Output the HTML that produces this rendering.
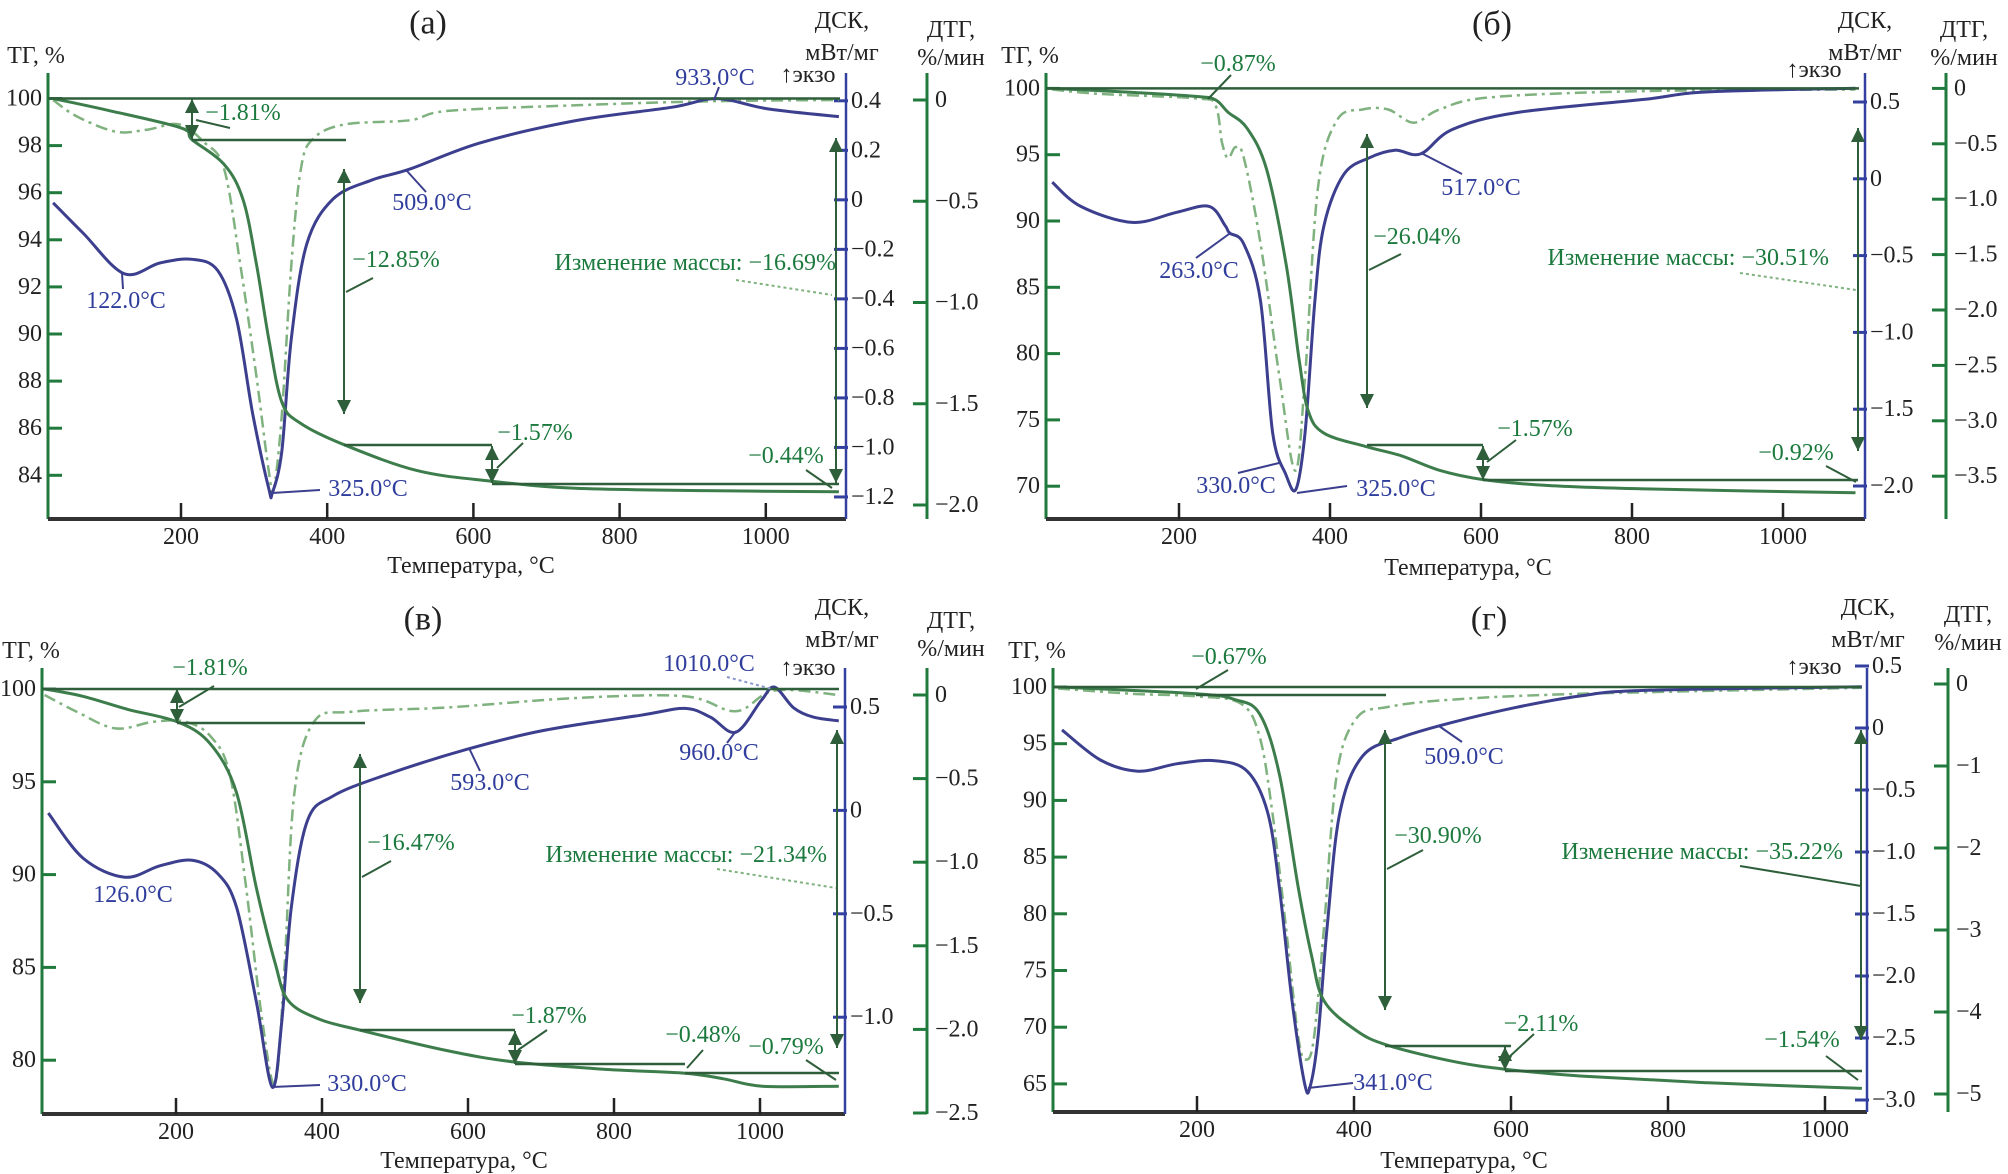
<!DOCTYPE html>
<html><head><meta charset="utf-8">
<style>
html,body{margin:0;padding:0;background:#fff;}
svg{display:block;}
text{font-family:"Liberation Serif","Noto Serif CJK SC",serif;font-size:24px;}
</style></head>
<body>
<svg id="fig" width="2008" height="1174" viewBox="0 0 2008 1174" xmlns="http://www.w3.org/2000/svg"></svg>
<script>
// ---------- data (panel а) ----------
const aTgT=[25,100,200,215,259,285,303,320,338,364,423,523,625,740,915,1100];
const aTgV=[100,99.5,98.75,98.25,97.2,95.7,93,89.8,87.1,86.2,85.3,84.2,83.75,83.45,83.35,83.3];
const aDscT=[25,66,122,171,215,250,276,298,320,325,338,351,372,408,460,513,609,740,872,933,1004,1100];
const aDscV=[-0.012,-0.134,-0.298,-0.255,-0.24,-0.285,-0.483,-0.862,-1.165,-1.183,-1.013,-0.558,-0.179,0.003,0.079,0.124,0.23,0.32,0.374,0.409,0.367,0.336];
const aDtgT=[25,57,110,153,197,232,259,281,303,320,327,338,351,364,381,425,513,565,740,915,1100];
const aDtgV=[0,-0.08,-0.156,-0.147,-0.12,-0.21,-0.34,-0.81,-1.36,-1.83,-1.92,-1.55,-0.81,-0.34,-0.19,-0.12,-0.1,-0.054,-0.026,-0.007,0];
// ---------- data (panel б) ----------
const bTgT=[32,138,222,248,265,290,316,342,359,371,392,447,494,545,603,689,816,1096];
const bTgV=[100,99.7,99.4,99.15,98.2,97,93.9,86.7,79.6,75.7,74,73,72.3,71.2,70.5,70.05,69.8,69.5];
const bDscT=[32,70,138,197,240,261,267,286,308,324,341,355,367,380,392,418,452,486,520,562,647,816,901,1096];
const bDscV=[-0.022,-0.18,-0.284,-0.218,-0.18,-0.304,-0.353,-0.426,-0.794,-1.652,-1.92,-2.02,-1.652,-0.794,-0.304,0.027,0.137,0.186,0.162,0.321,0.431,0.517,0.566,0.59];
const bDtgT=[32,95,222,248,257,265,275,286,308,333,354,367,384,409,443,477,511,545,613,816,1096];
const bDtgV=[-0.01,-0.05,-0.09,-0.15,-0.49,-0.63,-0.53,-0.63,-1.4,-2.6,-3.45,-2.6,-0.9,-0.29,-0.19,-0.19,-0.31,-0.19,-0.08,-0.024,-0.01];
// ---------- data (panel в) ----------
const cTgT=[20,73,134,204,248,283,310,336,354,397,454,573,665,792,897,950,1003,1108];
const cTgV=[100,99.6,98.9,98.2,97,94.4,89.3,85.2,83.2,82.2,81.6,80.5,79.9,79.5,79.3,79,78.6,78.6];
const cDscT=[25,73,130,178,222,257,283,310,332,345,358,380,415,485,599,704,836,897,932,967,1002,1020,1046,1073,1108];
const cDscV=[-0.013,-0.232,-0.323,-0.268,-0.241,-0.305,-0.469,-0.924,-1.339,-1.015,-0.469,-0.05,0.069,0.169,0.296,0.387,0.46,0.493,0.451,0.378,0.533,0.596,0.496,0.451,0.433];
const cDtgT=[20,64,117,169,213,248,274,296,318,336,349,362,389,441,573,748,897,967,1020,1108];
const cDtgV=[0,-0.1,-0.2,-0.16,-0.16,-0.25,-0.48,-1.15,-1.94,-2.32,-1.6,-0.59,-0.16,-0.1,-0.074,-0.018,-0.007,-0.097,0.027,0];
// ---------- data (panel г) ----------
const dTgT=[23,199,248,280,305,329,346,362,403,443,525,592,688,851,1047];
const dTgV=[100,99.4,98.9,97.6,92.3,82.3,76.3,72.3,69.7,68.4,67,66.3,65.7,65.1,64.6];
const dDscT=[28,77,125,175,223,264,290,305,321,337,344,354,366,382,411,460,525,607,688,770,1047];
const dDscV=[-0.015,-0.258,-0.348,-0.288,-0.264,-0.348,-0.682,-1.288,-2.197,-2.864,-2.894,-2.5,-1.59,-0.682,-0.227,-0.076,0.045,0.167,0.258,0.303,0.333];
const dDtgT=[23,118,199,256,280,296,313,329,339,349,362,378,403,443,525,688,1047];
const dDtgV=[-0.055,-0.12,-0.15,-0.24,-0.65,-1.57,-2.94,-4.31,-4.58,-4.31,-2.94,-1.11,-0.42,-0.28,-0.19,-0.12,-0.046];
// ---------- tick labels ----------
const xTicks=[200,400,600,800,1000];
const aTgTicks=[84,86,88,90,92,94,96,98,100];
const aDscTicks=[-1.2,-1.0,-0.8,-0.6,-0.4,-0.2,0,0.2,0.4];
const aDtgTicks=[0,-0.5,-1.0,-1.5,-2.0];
const bTgTicks=[70,75,80,85,90,95,100];
const bDscTicks=[-2.0,-1.5,-1.0,-0.5,0,0.5];
const bDtgTicks=[0,-0.5,-1.0,-1.5,-2.0,-2.5,-3.0,-3.5];
const cTgTicks=[80,85,90,95,100];
const cDscTicks=[-1.0,-0.5,0,0.5];
const cDtgTicks=[0,-0.5,-1.0,-1.5,-2.0,-2.5];
const dTgTicks=[65,70,75,80,85,90,95,100];
const dDscTicks=[-3.0,-2.5,-2.0,-1.5,-1.0,-0.5,0,0.5];
const dDtgTicks=[0,-1,-2,-3,-4,-5];

const NS='http://www.w3.org/2000/svg';
const svg=document.getElementById('fig');
const GT='#3d7d4c', GA='#1f7a3c', BL='#3c3f8e', BA='#3340a0', DT='#7fb27f', TXG='#1c7a3e', TXB='#2f3d9c';
function mk(tag,attrs,parent){const e=document.createElementNS(NS,tag);for(const k in attrs)e.setAttribute(k,attrs[k]);(parent||svg).appendChild(e);return e;}
function fmt(v){let s=(Math.abs(v)%1===0&&Math.abs(v)<50&&String(v).indexOf('.')<0)?String(Math.abs(v)):String(Math.abs(v));return (v<0?'\u2212':'')+s;}
function fmt1(v,dec){const s=Math.abs(v).toFixed(dec);return (v<0?'\u2212':'')+s;}
function smoothPath(pts){let d='M'+pts[0][0].toFixed(1)+','+pts[0][1].toFixed(1);
 for(let i=0;i<pts.length-1;i++){const p0=pts[i-1]||pts[i],p1=pts[i],p2=pts[i+1],p3=pts[i+2]||p2;
  const c1=[p1[0]+(p2[0]-p0[0])/6,p1[1]+(p2[1]-p0[1])/6],c2=[p2[0]-(p3[0]-p1[0])/6,p2[1]-(p3[1]-p1[1])/6];
  d+=' C'+c1[0].toFixed(1)+','+c1[1].toFixed(1)+' '+c2[0].toFixed(1)+','+c2[1].toFixed(1)+' '+p2[0].toFixed(1)+','+p2[1].toFixed(1);}
 return d;}
function txt(g,x,y,s,fill,anchor,name,size){const t=mk('text',{x:x,y:y,fill:fill,'text-anchor':anchor||'middle','dominant-baseline':'central'},g);if(size)t.setAttribute('style','font-size:'+size+'px');t.textContent=s;
 
 
 return t;}
function line(g,x1,y1,x2,y2,c,w,dash){const l=mk('line',{x1:x1,y1:y1,x2:x2,y2:y2,stroke:c,'stroke-width':w||2},g);if(dash)l.setAttribute('stroke-dasharray',dash);return l;}
function arrowHead(g,x,y,dir,c){const s=7,h=14;const p=dir<0?[[x,y],[x-s,y+h],[x+s,y+h]]:[[x,y],[x-s,y-h],[x+s,y-h]];mk('polygon',{points:p.map(q=>q.join(',')).join(' '),fill:c},g);}
function dArrow(g,x,y1,y2,c){line(g,x,y1,x,y2,c,2);arrowHead(g,x,y1,-1,c);arrowHead(g,x,y2,1,c);}

function panel(P){
 const g=mk('g',{});
 
 
 const X=t=>P.x0+P.xs*t, Ytg=v=>P.tg0+(100-v)*P.tgU, Ydsc=v=>P.dsc0+(P.dscRef-v)*P.dscU, Ydtg=v=>P.dtg0-v*P.dtgU;
 // axes
 const ax=mk('g',{},g);
 
 
 line(ax,P.xL,P.top,P.xL,P.bot,GA,3);
 line(ax,P.xL,P.bot,P.xR,P.bot,'#333',4);
 line(ax,P.xR,P.top,P.xR,P.bot,BA,2.5);
 line(ax,P.dtgX,P.top,P.dtgX,P.bot,GA,3);
 xTicks.forEach(t=>{const x=X(t);if(x>P.xR-5)return;line(ax,x,P.bot,x,P.bot-16,'#222',2.5);txt(ax,x,P.bot+18,String(t),'#222','middle','x-tick-label');});
 P.tgTicks.forEach(v=>{const y=Ytg(v);line(ax,P.xL,y,P.xL+14,y,GA,3);txt(ax,P.xL-6,y,String(v),'#222','end','tg-tick-label');});
 P.dscTicks.forEach(v=>{const y=Ydsc(v);line(ax,P.xR-12,y,P.xR+2,y,BA,3);txt(ax,P.xR+5,y,v===0?'0':fmt1(v,1),'#222','start','dsc-tick-label');});
 P.dtgTicks.forEach(v=>{const y=Ydtg(v);line(ax,P.dtgX-14,y,P.dtgX,y,GA,3);txt(ax,P.dtgX+8,y,v===0?'0':fmt1(v,P.dtgDec),'#222','start','dtg-tick-label');});
 // titles
 txt(g,P.title[0],P.title[1],P.title[2],'#222','middle','panel-title',34);
 txt(g,P.tgL[0],P.tgL[1],'ТГ, %','#222','middle','tg-axis-title');
 txt(g,P.dscL[0],P.dscL[1],'ДСК,','#222','middle','dsc-axis-title');
 txt(g,P.dscL[0],P.dscL[1]+32,'мВт/мг','#222','middle','dsc-axis-unit');
 txt(g,P.dtgL[0],P.dtgL[1],'ДТГ,','#222','middle','dtg-axis-title');
 txt(g,P.dtgL[0],P.dtgL[1]+28,'%/мин','#222','middle','dtg-axis-unit');
 txt(g,P.exo[0],P.exo[1],'↑экзо','#222','middle','exo-label');
 txt(g,P.xt[0],P.xt[1],'Температура, °C','#222','middle','x-axis-title');
 // series
 const dtg=mk('path',{d:smoothPath(P.dtgT.map((t,i)=>[X(t),Ydtg(P.dtgV[i])])),fill:'none',stroke:DT,'stroke-width':2.5,'stroke-dasharray':'12,5,3,5'},g);
 
 
 const dsc=mk('path',{d:smoothPath(P.dscT.map((t,i)=>[X(t),Ydsc(P.dscV[i])])),fill:'none',stroke:BL,'stroke-width':3},g);
 
 
 const tg=mk('path',{d:smoothPath(P.tgT.map((t,i)=>[X(t),Ytg(P.tgV[i])])),fill:'none',stroke:GT,'stroke-width':3},g);
 
 
 // annotations
 const an=mk('g',{},g);
 
 
 line(an,P.xL,Ytg(100),P.xR-6,Ytg(100),'#2e5e3a',2.5);
 (P.hl||[]).forEach(h=>line(an,h[0],h[1],h[2],h[1],'#2e5e3a',2.5));
 (P.da||[]).forEach(a=>dArrow(an,a[0],a[1],a[2],'#2e5e3a'));
 (P.ld||[]).forEach(l=>line(an,l[0],l[1],l[2],l[3],l[4]||'#2e5e3a',2,l[5]));
 (P.gl||[]).forEach(l=>txt(an,l[0],l[1],l[2],TXG,l[3]||'middle','mass-loss-label'));
 (P.bl||[]).forEach(l=>txt(an,l[0],l[1],l[2],TXB,'middle','peak-temp-label'));
}

panel({id:'a',x0:34.8,xs:0.731,xL:48,xR:846,dtgX:927,top:73,bot:519,
 tg0:98.5,tgU:23.55,dsc0:100.8,dscRef:0.4,dscU:247.6,dtg0:100,dtgU:202.5,dtgDec:1,
 tgT:aTgT,tgV:aTgV,dscT:aDscT,dscV:aDscV,dtgT:aDtgT,dtgV:aDtgV,
 tgTicks:aTgTicks,dscTicks:aDscTicks,dtgTicks:aDtgTicks,
 title:[428,23,'(a)'],tgL:[36,56],dscL:[842,21],dtgL:[951,30],exo:[808,75],xt:[471,566],
 hl:[[192,140,346],[344,445,492],[492,484,839]],
 da:[[192,99,139],[344,169,414],[492,446,483],[836,138,483]],
 ld:[[230,128,196,120],[373,278,346,292],[523,443,497,468],[806,470,832,488],[736,280,832,295,'#7fb27f','3,3'],[122,273,123,289,BL],[272,493,320,490,BL],[407,171,426,192,BL],[719,87,714,100,BL]],
 gl:[[243,113,'−1.81%'],[396,260,'−12.85%'],[535,433,'−1.57%'],[786,456,'−0.44%'],[836,263,'Изменение массы: −16.69%','end']],
 bl:[[126,301,'122.0°C'],[368,489,'325.0°C'],[432,203,'509.0°C'],[715,78,'933.0°C']]});

panel({id:'b',x0:1028,xs:0.755,xL:1046,xR:1865,dtgX:1946,top:73,bot:519,
 tg0:88.4,tgU:13.26,dsc0:102,dscRef:0.5,dscU:153.6,dtg0:88.4,dtgU:110.8,dtgDec:1,
 tgT:bTgT,tgV:bTgV,dscT:bDscT,dscV:bDscV,dtgT:bDtgT,dtgV:bDtgV,
 tgTicks:bTgTicks,dscTicks:bDscTicks,dtgTicks:bDtgTicks,
 title:[1492,24,'(б)'],tgL:[1030,56],dscL:[1865,21],dtgL:[1964,30],exo:[1814,70],xt:[1468,568],
 hl:[[1367,445,1483],[1483,480,1858]],
 da:[[1367,134,408],[1483,446,480],[1858,128,451]],
 ld:[[1231,75,1208,99],[1401,254,1369,270],[1516,440,1487,462],[1826,466,1856,482],[1740,273,1856,290,'#7fb27f','3,3'],[1423,154,1462,174,BL],[1229,234,1196,258,BL],[1279,463,1238,473,BL],[1297,493,1347,486,BL]],
 gl:[[1238,64,'−0.87%'],[1417,237,'−26.04%'],[1535,429,'−1.57%'],[1796,453,'−0.92%'],[1829,258,'Изменение массы: −30.51%','end']],
 bl:[[1481,188,'517.0°C'],[1199,271,'263.0°C'],[1236,486,'330.0°C'],[1396,489,'325.0°C']]});

panel({id:'c',x0:30,xs:0.730,xL:42,xR:845,dtgX:927,top:668,bot:1114,
 tg0:689,tgU:18.56,dsc0:707,dscRef:0.5,dscU:206.8,dtg0:695,dtgU:167.2,dtgDec:1,
 tgT:cTgT,tgV:cTgV,dscT:cDscT,dscV:cDscV,dtgT:cDtgT,dtgV:cDtgV,
 tgTicks:cTgTicks,dscTicks:cDscTicks,dtgTicks:cDtgTicks,
 title:[423,619,'(в)'],tgL:[31,651],dscL:[842,608],dtgL:[951,621],exo:[808,668],xt:[464,1161],
 hl:[[177,723,365],[360,1030,515],[515,1064,685],[685,1073,839]],
 da:[[177,689,723],[360,754,1003],[515,1031,1064],[837,730,1048]],
 ld:[[214,686,179,707],[391,861,362,877],[547,1030,518,1050],[703,1050,687,1068],[806,1060,836,1080],[717,869,836,888,'#7fb27f','3,3'],[469,748,480,771,BL],[736,731,727,743,BL],[727,677,772,689,'#8a96c8','3,3'],[272,1087,320,1085,BL]],
 gl:[[210,668,'−1.81%'],[411,843,'−16.47%'],[549,1016,'−1.87%'],[703,1035,'−0.48%'],[786,1047,'−0.79%'],[827,855,'Изменение массы: −21.34%','end']],
 bl:[[133,895,'126.0°C'],[367,1084,'330.0°C'],[490,783,'593.0°C'],[719,753,'960.0°C'],[709,664,'1010.0°C']]});

panel({id:'d',x0:1040,xs:0.785,xL:1053,xR:1867,dtgX:1948,top:668,bot:1112,
 tg0:687,tgU:11.34,dsc0:666,dscRef:0.5,dscU:124,dtg0:684,dtgU:82,dtgDec:0,
 tgT:dTgT,tgV:dTgV,dscT:dDscT,dscV:dDscV,dtgT:dDtgT,dtgV:dDtgV,
 tgTicks:dTgTicks,dscTicks:dDscTicks,dtgTicks:dDtgTicks,
 title:[1489,619,'(г)'],tgL:[1037,651],dscL:[1868,608],dtgL:[1968,615],exo:[1814,667],xt:[1464,1161],
 hl:[[1196,695,1386],[1385,1046,1511],[1505,1071,1862]],
 da:[[1385,730,1010],[1505,1047,1070],[1861,730,1040]],
 ld:[[1228,670,1196,689],[1423,850,1387,869],[1534,1034,1508,1058],[1826,1056,1858,1080],[1740,866,1861,886],[1439,726,1462,742,BL],[1308,1088,1353,1083,BL]],
 gl:[[1229,657,'−0.67%'],[1438,836,'−30.90%'],[1541,1024,'−2.11%'],[1802,1040,'−1.54%'],[1843,852,'Изменение массы: −35.22%','end']],
 bl:[[1464,757,'509.0°C'],[1393,1083,'341.0°C']]});
</script>
</body></html>
